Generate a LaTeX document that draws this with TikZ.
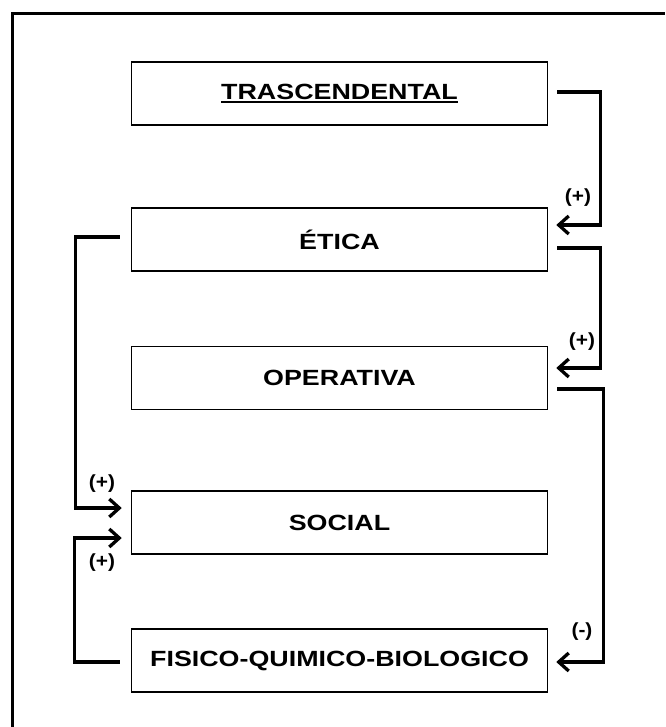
\documentclass[tikz,border=0pt]{standalone}
\usepackage{fontspec}
\setmainfont{Liberation Sans}
\usetikzlibrary{arrows.meta,calc}
\newcommand{\boxtxt}[1]{\scalebox{1.22}[1]{\fontsize{22}{24}\selectfont\bfseries #1}}
\newcommand{\signtxt}[1]{\scalebox{1.1}[1]{\fontsize{19}{21}\selectfont\bfseries #1}}
\newcommand{\ulin}[1]{\setbox0\hbox{#1}\rlap{\rule[-4pt]{\wd0}{1.8pt}}\box0}
\begin{document}
\begin{tikzpicture}[x=1pt,y=-1pt,
  levelbox/.style={draw=black, line width=1.5pt, minimum width=416pt, minimum height=63pt, inner sep=0pt, fill=white},
  conn/.style={line width=3.3pt, -{Straight Barb[length=10pt,width=18pt,line width=3.3pt]}, line join=miter},
  sign/.style={inner sep=0pt}]
\useasboundingbox (0,0) rectangle (665,727);
\fill[white] (0,0) rectangle (665,727);
\draw[line width=3pt] (12,727) -- (12,14) -- (665,14);

\node[levelbox] (tras) at (339.5,93.5) {\boxtxt{\ulin{TRASCENDENTAL}}};
\node[levelbox] (etica) at (339.5,239.5) {\boxtxt{ÉTICA}};
\node[levelbox] (oper) at (339.5,378) {\boxtxt{OPERATIVA}};
\node[levelbox] (social) at (339.5,522.5) {\boxtxt{SOCIAL}};
\node[levelbox] (fisico) at (339.5,660.5) {\boxtxt{FISICO-QUIMICO-BIOLOGICO}};

% right side connectors
\draw[conn] ([xshift=9pt,yshift=1.5pt]tras.east) -- ++(43,0) |- ([xshift=8pt,yshift=14.5pt]etica.east);
\draw[conn] ([xshift=9pt,yshift=-8.5pt]etica.east) -- ++(43,0) |- ([xshift=8pt,yshift=10pt]oper.east);
\draw[conn] ([xshift=9pt,yshift=-11pt]oper.east) -- ++(46,0) |- ([xshift=8pt,yshift=-1.5pt]fisico.east);

% left side connectors
\draw[conn] ([xshift=-11pt,yshift=2.5pt]etica.west) -- ++(-44,0) |- ([xshift=-9pt,yshift=14.5pt]social.west);
\draw[conn] ([xshift=-11pt,yshift=-1.5pt]fisico.west) -- ++(-45,0) |- ([xshift=-9pt,yshift=-15.5pt]social.west);

% signs
\node[sign] (s1) at (578,198) {\signtxt{(+)}};
\node[sign] (s2) at (582,342) {\signtxt{(+)}};
\node[sign] (s3) at (582,632) {\signtxt{(-)}};
\node[sign] (s4) at (102,484) {\signtxt{(+)}};
\node[sign] (s5) at (102,563) {\signtxt{(+)}};
\end{tikzpicture}
\end{document}
